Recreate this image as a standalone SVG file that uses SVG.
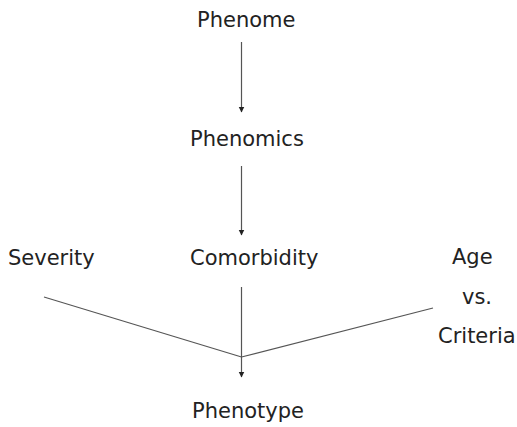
<svg xmlns="http://www.w3.org/2000/svg" width="517" height="427" viewBox="0 0 517 427">
<style>
text{font-family:"DejaVu Sans",Verdana,sans-serif;font-size:21px;fill:#222;}
.c line{stroke:#555;stroke-width:1.2;}
</style>
<defs>
<marker id="ah" markerWidth="6" markerHeight="7" refX="5.5" refY="3" orient="auto" markerUnits="userSpaceOnUse"><path d="M0,0 L6,3 L0,6 Z" fill="#222"/></marker>
</defs>
<rect width="517" height="427" fill="#fff"/>
<g id="phenome"><text x="197" y="27">Phenome</text></g>
<g id="phenomics"><text x="190" y="146">Phenomics</text></g>
<g id="severity"><text x="8" y="265">Severity</text></g>
<g id="comorbidity"><text x="190" y="265">Comorbidity</text></g>
<g id="age"><text x="452" y="264">Age</text>
<text x="462" y="304">vs.</text>
<text x="438" y="343">Criteria</text></g>
<g id="phenotype"><text x="192" y="418">Phenotype</text></g>
<g class="c" id="connectors">
<line x1="241.5" y1="42" x2="241.5" y2="112" marker-end="url(#ah)"/>
<line x1="241.5" y1="166" x2="241.5" y2="235" marker-end="url(#ah)"/>
<line x1="241.5" y1="287" x2="241.5" y2="377" marker-end="url(#ah)"/>
<line x1="44" y1="297" x2="241.5" y2="357"/>
<line x1="433" y1="308" x2="241.5" y2="357"/>
</g>
</svg>
